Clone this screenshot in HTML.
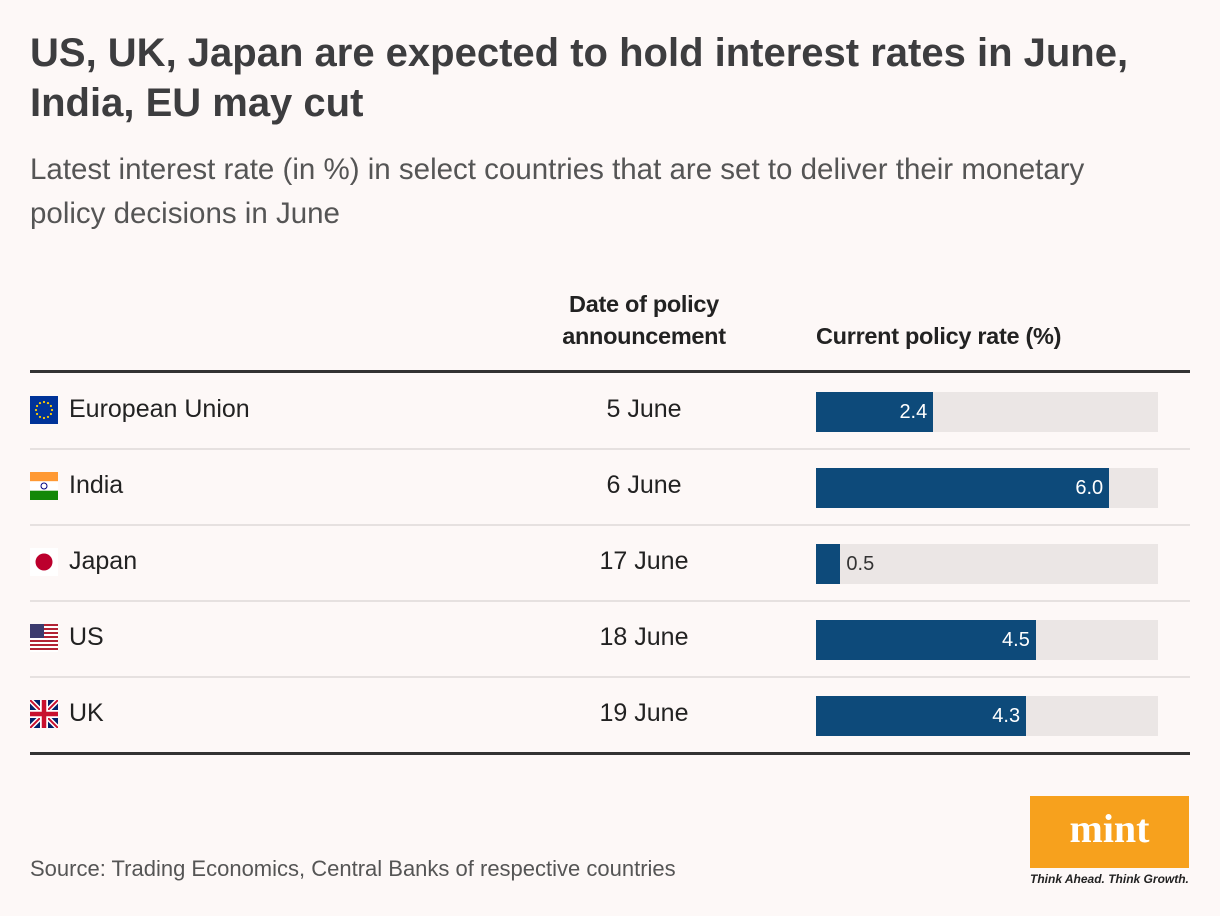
<!DOCTYPE html>
<html><head><meta charset="utf-8"><style>
body{margin:0;width:1220px;height:916px;background:#fdf8f7;font-family:"Liberation Sans",sans-serif;position:relative;overflow:hidden}
.abs{position:absolute}
#title{left:30px;top:28px;font-size:40px;font-weight:bold;color:#3d3d3f;line-height:50px;letter-spacing:0px;white-space:nowrap}
#sub{left:30px;top:148px;font-size:29.5px;color:#555;line-height:44px;white-space:nowrap}
.hd{font-size:23.5px;font-weight:bold;color:#222;line-height:32px;letter-spacing:-0.3px}
.cell{font-size:25px;color:#222}
#source{left:30px;top:856px;font-size:22px;color:#555}
</style></head><body>
<div id="title" class="abs">US, UK, Japan are expected to hold interest rates in June,<br>India, EU may cut</div>
<div id="sub" class="abs">Latest interest rate (in %) in select countries that are set to deliver their monetary<br>policy decisions in June</div>
<div class="abs hd" style="left:524px;top:288px;width:240px;text-align:center">Date of policy<br>announcement</div>
<div class="abs hd" style="left:816px;top:320px">Current policy rate (%)</div>
<div class="abs" style="left:30px;top:370px;width:1160px;height:3px;background:#333"></div>
<div class="abs" style="left:30px;top:752px;width:1160px;height:3px;background:#333"></div>
<div id="rows"></div>
<div id="source" class="abs">Source: Trading Economics, Central Banks of respective countries</div>
<div class="abs" style="left:1030px;top:796px;width:159px;height:72px;background:#f7a11d">
<div style="text-align:center;font-family:'Liberation Serif',serif;font-weight:bold;font-size:40px;color:#fff;line-height:66px">mint</div></div>
<div class="abs" style="left:1030px;top:872px;font-size:12px;font-style:italic;font-weight:bold;color:#222">Think Ahead. Think Growth.</div>
<script>
const countries=["European Union","India","Japan","US","UK"];
const dates=["5 June","6 June","17 June","18 June","19 June"];
const rates=[2.4,6.0,0.5,4.5,4.3];
const flagKeys=["eu","in","jp","us","uk"];
const maxRate=7;
const barX=816,barW=342;
function xs(v){return v/maxRate*barW;}
const flags={
eu:'<rect width="28" height="28" fill="#003399"/>'+Array.from({length:12},(_,i)=>{const a=i*Math.PI/6;return `<circle cx="${14+8*Math.cos(a)}" cy="${14+8*Math.sin(a)}" r="1.1" fill="#fc0"/>`}).join(''),
in:'<rect width="28" height="9.3" fill="#f93"/><rect y="9.3" width="28" height="9.4" fill="#fff"/><rect y="18.7" width="28" height="9.3" fill="#138808"/><circle cx="14" cy="14" r="3" fill="none" stroke="#000080"/>',
jp:'<rect width="28" height="28" fill="#fff"/><circle cx="14" cy="14" r="8.5" fill="#bc002d"/>',
us:Array.from({length:7},(_,i)=>`<rect y="${i*4}" width="28" height="2" fill="#b22234"/>`).join('')+'<rect width="14" height="14" fill="#3c3b6e"/>',
uk:'<rect width="28" height="28" fill="#012169"/><path d="M0 0L28 28M28 0L0 28" stroke="#fff" stroke-width="5"/><path d="M0 0L28 28M28 0L0 28" stroke="#c8102e" stroke-width="2"/><path d="M14 0V28M0 14H28" stroke="#fff" stroke-width="8"/><path d="M14 0V28M0 14H28" stroke="#c8102e" stroke-width="4.5"/>'
};
const root=document.getElementById('rows');
countries.forEach((c,i)=>{
 const top=372+i*76;
 const row=document.createElement('div');
 
 
 row.className='abs';row.style.cssText=`left:0;top:${top}px;width:1220px;height:76px`;
 let h=`<svg class="abs" style="left:30px;top:24px;background:#fff" width="28" height="28">${flags[flagKeys[i]]}</svg>`;
 h+=`<div class="abs cell" style="left:69px;top:23px">${c}</div>`;
 h+=`<div class="abs cell" style="left:534px;top:23px;width:220px;text-align:center">${dates[i]}</div>`;
 h+=`<div class="abs" style="left:${barX}px;top:20px;width:${barW}px;height:40px;background:#ebe6e5"></div>`;
 const w=xs(rates[i]);
 h+=`<div class="abs" style="left:${barX}px;top:20px;width:${w}px;height:40px;background:#0d4a7a"></div>`;
 const lab=rates[i].toFixed(1);
 if(w>40) h+=`<div class="abs" style="left:${barX}px;top:29px;width:${w-6}px;text-align:right;font-size:20px;color:#fff">${lab}</div>`;
 else h+=`<div class="abs" style="left:${barX+w+6}px;top:29px;font-size:20px;color:#333">${lab}</div>`;
 if(i<countries.length-1) h+=`<div class="abs" style="left:30px;top:76px;width:1160px;height:2px;background:#e6e1e0"></div>`;
 row.innerHTML=h;root.appendChild(row);
});
</script>
</body></html>
